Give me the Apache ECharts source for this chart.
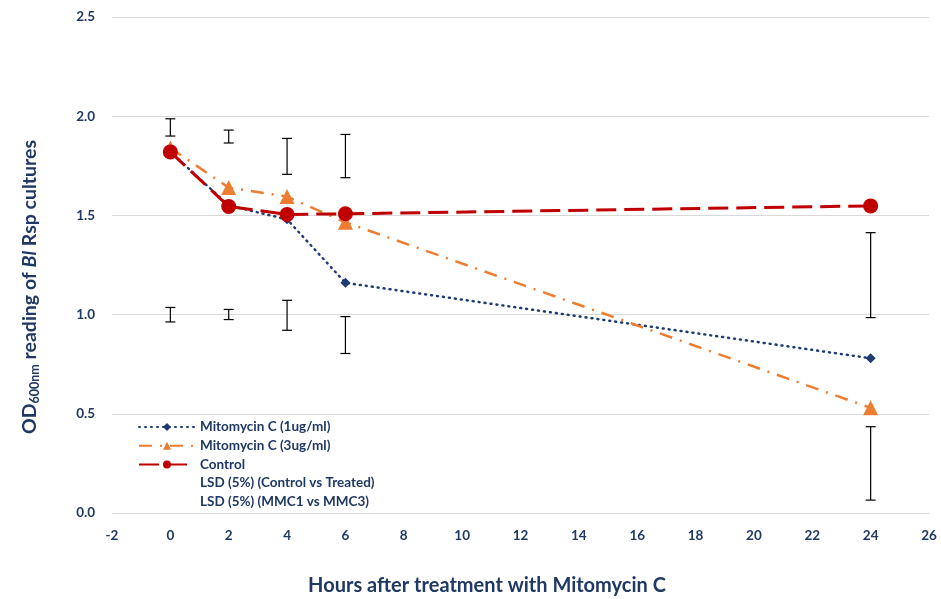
<!DOCTYPE html>
<html><head><meta charset="utf-8">
<script src="https://cdn.jsdelivr.net/npm/echarts@6/dist/echarts.min.js"></script>
<style>html,body{margin:0;padding:0;background:#fff}#c{width:941px;height:599px}</style>
</head><body><div id="c"></div>
<script>
const hours = [0, 2, 4, 6, 24];
const mmc1 = [1.82, 1.55, 1.48, 1.16, 0.78];
const mmc3 = [1.84, 1.64, 1.595, 1.465, 0.53];
const control = [1.82, 1.545, 1.505, 1.508, 1.548];
const lsdCtrlLow = [1.90, 1.865, 1.707, 1.69, 0.985];
const lsdCtrlHigh = [1.987, 1.93, 1.888, 1.908, 1.413];
const lsdMmcLow = [0.963, 0.975, 0.921, 0.804, 0.065];
const lsdMmcHigh = [1.036, 1.026, 1.072, 0.99, 0.435];
const seriesNames = ['Mitomycin C (1ug/ml)', 'Mitomycin C (3ug/ml)', 'Control', 'LSD (5%) (Control vs Treated)', 'LSD (5%) (MMC1 vs MMC3)'];
const xTitle = 'Hours after treatment with Mitomycin C';

const navy = '#1f3864';
const font = 'Lato, "Open Sans", sans-serif';
function pairs(ys){ return hours.map((h,i)=>[h, ys[i]]); }
function bars(lo, hi){ return hours.map((h,i)=>[h, lo[i], hi[i]]); }
function errRender(params, api){
  const x = api.value(0);
  const p1 = api.coord([x, api.value(1)]);
  const p2 = api.coord([x, api.value(2)]);
  const w = 5;
  const st = {stroke:'#000', lineWidth:1.2};
  return {type:'group', children:[
    {type:'line', shape:{x1:p1[0], y1:p1[1], x2:p2[0], y2:p2[1]}, style:st},
    {type:'line', shape:{x1:p1[0]-w, y1:p1[1], x2:p1[0]+w, y2:p1[1]}, style:st},
    {type:'line', shape:{x1:p2[0]-w, y1:p2[1], x2:p2[0]+w, y2:p2[1]}, style:st}
  ]};
}
const chart = echarts.init(document.getElementById('c'));
chart.setOption({
  animation:false,
  backgroundColor:'#fff',
  grid:{left:112, right:12, top:17, bottom:86, containLabel:false},
  xAxis:{type:'value', min:-2, max:26, interval:2,
    axisLine:{show:true, lineStyle:{color:'#d9d9d9'}}, axisTick:{show:false}, splitLine:{show:false},
    axisLabel:{color:navy, fontFamily:font, fontWeight:'bold', fontSize:13.5, margin:16}},
  yAxis:{type:'value', min:0, max:2.5, interval:0.5,
    axisLine:{show:false}, axisTick:{show:false},
    splitLine:{lineStyle:{color:'#d9d9d9', width:1}},
    axisLabel:{color:navy, fontFamily:font, fontWeight:'bold', fontSize:13.5, margin:17, formatter:v=>v.toFixed(1)}},
  legend:{orient:'vertical', left:133, top:415, itemWidth:56, itemHeight:10, itemGap:4.7,
    textStyle:{color:navy, fontFamily:font, fontWeight:'bold', fontSize:13.5},
    data:[
      {name:seriesNames[0]},
      {name:seriesNames[1]},
      {name:seriesNames[2]},
      {name:seriesNames[3], icon:'rect', itemStyle:{opacity:0}},
      {name:seriesNames[4], icon:'rect', itemStyle:{opacity:0}}
    ]},
  graphic:[
    {type:'text', x:30, y:287, rotation:Math.PI/2, style:{
      text:'{b|OD}{s|600nm}{b| reading of }{i|Bl}{b| Rsp cultures}',
      align:'center', verticalAlign:'middle',
      rich:{
        b:{fill:navy, fontFamily:font, fontWeight:'bold', fontSize:19.5},
        i:{fill:navy, fontFamily:font, fontWeight:'bold', fontStyle:'italic', fontSize:19.5},
        s:{fill:navy, fontFamily:font, fontWeight:'bold', fontSize:12.5, padding:[9,0,0,0]}
      }}},
    {type:'text', x:487, y:586, style:{text:xTitle, align:'center', verticalAlign:'middle',
      fill:navy, fontFamily:font, fontWeight:'bold', fontSize:20}}
  ],
  series:[
    {name:seriesNames[3], type:'custom', renderItem:errRender, data:bars(lsdCtrlLow, lsdCtrlHigh), z:1,
      itemStyle:{color:'#000'}, encode:{x:0, y:[1,2]}},
    {name:seriesNames[4], type:'custom', renderItem:errRender, data:bars(lsdMmcLow, lsdMmcHigh), z:1,
      itemStyle:{color:'#000'}, encode:{x:0, y:[1,2]}},
    {name:seriesNames[0], type:'line', data:pairs(mmc1), z:3,
      symbol:'diamond', symbolSize:10, itemStyle:{color:'#1f3b73'},
      lineStyle:{color:'#1f3b73', width:2.5, type:[1,5], cap:'round'}},
    {name:seriesNames[1], type:'line', data:pairs(mmc3), z:4,
      symbol:'triangle', symbolSize:15, itemStyle:{color:'#ed7d31'},
      lineStyle:{color:'#ed7d31', width:2.5, type:[13,8,2,8]}},
    {name:seriesNames[2], type:'line', data:pairs(control), z:5,
      symbol:'circle', symbolSize:15, itemStyle:{color:'#c00000'},
      lineStyle:{color:'#c00000', width:3, type:[20,8]}}
  ]
});
</script></body></html>
